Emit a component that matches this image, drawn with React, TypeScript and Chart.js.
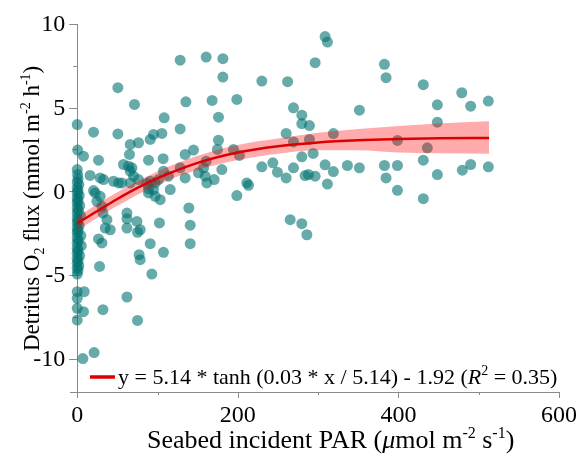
import React, { useEffect, useRef } from "react";
import { Chart, registerables } from "chart.js";
Chart.register(...registerables);

// ---------- data ----------
const xMajorTicks = [0, 200, 400, 600];
const xMinorTicks = [100, 300, 500];
const yMajorTicks = [-10, -5, 0, 5, 10];
const yMinorTicks = [-7.5, -2.5, 2.5, 7.5];

// observations: [seabed PAR, detritus O2 flux]
const observations: [number, number][] = [
  // near-zero light column
  [0, 3.99], [0.5, 2.46], [7.8, 2.1], [0, 1.3], [0.5, 1.0], [1, 0.75], [0, 0.55], [2, 0.4], [0, 0.2], [1, 0.05],
  [0, -0.1], [2.5, -0.25], [0, -0.4], [1, -0.55], [0, -0.7], [3, -0.85], [0, -1.0], [1.5, -1.15], [0, -1.3], [4, -1.45],
  [0, -1.6], [1, -1.75], [0, -1.9], [2.5, -2.05], [0, -2.2], [1, -2.35], [0, -2.5], [4.5, -2.65], [0, -2.8], [1.5, -2.95],
  [0, -3.1], [5, -3.25], [0, -3.4], [1, -3.55], [0, -3.7], [3, -3.85], [0, -4.0], [1, -4.15], [0, -4.3], [2, -4.45],
  [0, -4.6], [1, -4.75], [0, -4.95], [0, -6.0], [8.7, -6.0], [0, -6.4], [0, -7.0], [7.8, -7.2], [0, -7.7], [7, -10.0],
  [21, -9.64],
  // 10 - 50
  [20.3, 3.53], [26.5, 1.86], [16, 0.95], [28.6, 0.8], [32.7, 0.7], [20.3, 0.04], [22.4, -0.1], [28.6, -0.3], [24.5, -0.6],
  [30.7, -0.9], [32, -1.3], [37, -1.7], [34.9, -2.2], [41.1, -2.3], [26.5, -2.85], [30.7, -3.09], [27.8, -4.49], [32, -7.08],
  [45.2, 0.6], [51.4, 0.5], [50.6, 3.43], [50.6, 6.19],
  // 55 - 100
  [71.3, 5.19], [57.6, 1.6], [63.9, 1.5], [68.1, 1.4], [70.2, 0.9], [66, 0.5], [66, 2.8], [65.1, 2.2], [76.3, 2.9], [66, 1.2],
  [76.3, 0.7], [55.6, 0.5], [61.9, -1.3], [61.9, -1.65], [61.9, -2.2], [74.3, -1.8], [78.4, -2.3], [75.1, -2.45], [77.1, -3.79],
  [78.4, -4.09], [90.9, -3.13], [92.9, -4.95], [61.9, -6.32], [75.1, -7.72], [86.8, 0.46], [88.8, 0.14], [88.8, -0.1], [90.9, 0.6],
  [90.9, 3.1], [95, 3.4], [88.8, 1.86], [97.1, 0.5], [95, 0.1], [97.1, -0.3],
  // 100 - 160
  [101.2, 0.7], [103.3, -0.5], [102.4, -1.89], [107.4, -3.65], [105.4, 3.46], [108.3, 4.39], [107, 1.95], [107.4, 1.2],
  [113.7, 0.9], [115.8, 0.1], [128.2, 7.84], [128.2, 3.73], [135.3, 5.35], [128.2, 1.4], [134.4, 0.8], [134.4, 2.2],
  [139, -1.0], [140.7, -2.03], [140.7, -3.13], [144.8, 2.46], [151, 1.1], [157.3, 1.4], [159.3, 0.9], [160.6, 1.8],
  [161.4, 0.5], [160.6, 8.02],
  // 160 - 260
  [168, 5.43], [175.9, 4.43], [175.9, 3.05], [174.6, 2.5], [181.4, 7.93], [181.4, 6.83], [180.1, 1.3], [170.5, 0.7],
  [194.6, 2.5], [198.8, 5.49], [202, 2.14], [198.8, -0.26], [211.2, 0.5], [213.3, 0.36], [229.9, 6.59], [229.9, 1.46],
  [243.6, 1.7], [249.3, 1.14], [260.2, 0.8], [260.2, 3.46], [262, 6.55],
  // 260 - 330
  [269.3, 4.99], [279.7, 4.55], [279.7, 4.05], [289.2, 3.93], [269.3, 2.95], [289.2, 3.1], [279.7, 2.06], [293.8, 2.26],
  [269.3, 1.4], [288, 1.0], [283.8, 0.94], [296.3, 0.9], [308.7, 1.58], [319, 1.18], [311.6, 0.43], [319, 3.45],
  [308.7, 9.25], [311.6, 8.92], [296.3, 7.69], [265.2, -1.7], [279.7, -1.94], [286, -2.6],
  // 330+
  [382.6, 7.59], [384.6, 6.79], [431, 6.37], [478.9, 5.89], [490, 5.09], [512, 5.39], [351.4, 4.85], [448.5, 5.17],
  [448.5, 4.13], [398.8, 3.04], [436, 2.6], [336.5, 1.54], [351.4, 1.4], [382.6, 1.54], [398.8, 1.54], [384.6, 0.8],
  [431, 1.86], [448.5, 1.0], [398.8, 0.06], [431, -0.44], [479.6, 1.26], [490, 1.6], [512, 1.46],
];

// fitted curve and its confidence band
const fitX = [0, 25, 50, 75, 100, 150, 200, 250, 300, 350, 400, 450, 513];
const fitY = [-1.92, -1.18, -0.46, 0.2, 0.78, 1.7, 2.32, 2.69, 2.92, 3.05, 3.12, 3.17, 3.19];
const bandX = [0, 50, 100, 150, 200, 250, 300, 350, 400, 450, 513];
const bandUpper = [-1.52, -0.06, 1.18, 2.12, 2.77, 3.15, 3.5, 3.72, 3.9, 4.05, 4.18];
const bandLower = [-2.32, -0.86, 0.38, 1.28, 1.87, 2.25, 2.45, 2.45, 2.32, 2.28, 2.24];

const yTitle = [
  { t: "Detritus O" }, { t: "2", sub: true }, { t: " flux (mmol m" }, { t: "-2", sup: true },
  { t: " h" }, { t: "-1", sup: true }, { t: ")" },
];
const xTitle = [
  { t: "Seabed incident PAR (" }, { t: "\u03BC", it: true }, { t: "mol m" }, { t: "-2", sup: true },
  { t: " s" }, { t: "-1", sup: true }, { t: ")" },
];
const legendText = [
  { t: "y = 5.14 * tanh (0.03 * x / 5.14) - 1.92 (" }, { t: "R", it: true }, { t: "2", sup: true }, { t: " = 0.35)" },
];

// ---------- drawing helpers ----------
const FONT = '"Liberation Serif", "Times New Roman", serif';
type Seg = { t: string; it?: boolean; sup?: boolean; sub?: boolean };

function segFont(s: Seg, size: number) {
  const sz = s.sup || s.sub ? Math.round(size * 0.62) : size;
  return `${s.it ? "italic " : ""}${sz}px ${FONT}`;
}
function drawRich(ctx: CanvasRenderingContext2D, segs: Seg[], x: number, y: number, size: number) {
  let cx = x;
  ctx.textBaseline = "alphabetic";
  ctx.textAlign = "left";
  for (const s of segs) {
    ctx.font = segFont(s, size);
    const dy = s.sup ? -size * 0.4 : s.sub ? size * 0.22 : 0;
    ctx.fillText(s.t, cx, y + dy);
    cx += ctx.measureText(s.t).width;
  }
}

const AXIS_COLOR = "#8a8a8a";

const axesPlugin = {
  id: "customAxes",
  beforeDatasetsDraw(chart: any) {
    const ctx = chart.ctx as CanvasRenderingContext2D;
    const xs = chart.scales.x;
    const ys = chart.scales.y;
    const { left, right, top, bottom } = chart.chartArea;
    const x0 = xs.getPixelForValue(0);
    ctx.save();
    ctx.strokeStyle = AXIS_COLOR;
    ctx.lineWidth = 1;
    ctx.beginPath();
    ctx.moveTo(left, bottom + 0.5);
    ctx.lineTo(right, bottom + 0.5);
    ctx.moveTo(Math.round(x0) + 0.5, top);
    ctx.lineTo(Math.round(x0) + 0.5, bottom);
    for (const v of xMajorTicks) {
      const p = Math.round(xs.getPixelForValue(v)) + 0.5;
      ctx.moveTo(p, bottom);
      ctx.lineTo(p, bottom + 6);
    }
    for (const v of xMinorTicks) {
      const p = Math.round(xs.getPixelForValue(v)) + 0.5;
      ctx.moveTo(p, bottom);
      ctx.lineTo(p, bottom + 3);
    }
    for (const v of yMajorTicks) {
      const p = Math.round(ys.getPixelForValue(v)) + 0.5;
      ctx.moveTo(x0, p);
      ctx.lineTo(x0 - 8, p);
    }
    for (const v of yMinorTicks) {
      const p = Math.round(ys.getPixelForValue(v)) + 0.5;
      ctx.moveTo(x0, p);
      ctx.lineTo(x0 - 4, p);
    }
    ctx.stroke();
    ctx.restore();
  },
  afterDraw(chart: any) {
    const ctx = chart.ctx as CanvasRenderingContext2D;
    const xs = chart.scales.x;
    const ys = chart.scales.y;
    const { bottom } = chart.chartArea;
    const x0 = xs.getPixelForValue(0);
    ctx.save();
    ctx.fillStyle = "#000";
    ctx.font = `24px ${FONT}`;
    ctx.textAlign = "center";
    ctx.textBaseline = "alphabetic";
    for (const v of xMajorTicks) {
      ctx.fillText(String(v), xs.getPixelForValue(v), bottom + 30);
    }
    ctx.textAlign = "right";
    ctx.textBaseline = "middle";
    for (const v of yMajorTicks) {
      ctx.fillText(String(v), x0 - 12, ys.getPixelForValue(v) + 1);
    }
    // x title
    drawRich(ctx, xTitle, 147, 448, 26);
    // y title (rotated)
    ctx.save();
    ctx.translate(39, 351);
    ctx.rotate(-Math.PI / 2);
    drawRich(ctx, yTitle, 0, 0, 23);
    ctx.restore();
    // legend
    ctx.strokeStyle = "#dd0000";
    ctx.lineWidth = 3.5;
    ctx.beginPath();
    ctx.moveTo(90, 377);
    ctx.lineTo(115, 377);
    ctx.stroke();
    drawRich(ctx, legendText, 118, 384, 22);
    ctx.restore();
  },
};

export default function App() {
  const ref = useRef<HTMLCanvasElement | null>(null);
  useEffect(() => {
    document.body.style.margin = "0";
    const canvas = ref.current;
    if (!canvas) return;
    const chart = new Chart(canvas, {
      type: "scatter",
      data: {
        datasets: [
          {
            type: "line",
            data: fitX.map((x, i) => ({ x, y: fitY[i] })),
            borderColor: "#dd0000",
            borderWidth: 2.5,
            pointRadius: 0,
            cubicInterpolationMode: "monotone",
            fill: false,
          } as any,
          {
            type: "line",
            data: bandX.map((x, i) => ({ x, y: bandUpper[i] })),
            borderWidth: 0,
            borderColor: "rgba(0,0,0,0)",
            pointRadius: 0,
            cubicInterpolationMode: "monotone",
            backgroundColor: "rgba(255,0,0,0.33)",
            fill: "+1",
          } as any,
          {
            type: "line",
            data: bandX.map((x, i) => ({ x, y: bandLower[i] })),
            borderWidth: 0,
            borderColor: "rgba(0,0,0,0)",
            pointRadius: 0,
            cubicInterpolationMode: "monotone",
            fill: false,
          } as any,
          {
            type: "scatter",
            data: observations.map(([x, y]) => ({ x, y })),
            backgroundColor: "rgba(0,115,113,0.6)",
            borderWidth: 0,
            pointRadius: 5.5,
          } as any,
        ],
      },
      options: {
        animation: false,
        responsive: false,
        devicePixelRatio: 1,
        layout: { padding: { left: 70, right: 21, top: 24, bottom: 63 } },
        plugins: { legend: { display: false }, tooltip: { enabled: false } },
        scales: {
          x: { type: "linear", min: -9, max: 600, display: false },
          y: { type: "linear", min: -12, max: 10, display: false },
        },
      } as any,
      plugins: [axesPlugin],
    });
    return () => chart.destroy();
  }, []);
  return <canvas ref={ref} width={580} height={455} style={{ display: "block" }} />;
}
